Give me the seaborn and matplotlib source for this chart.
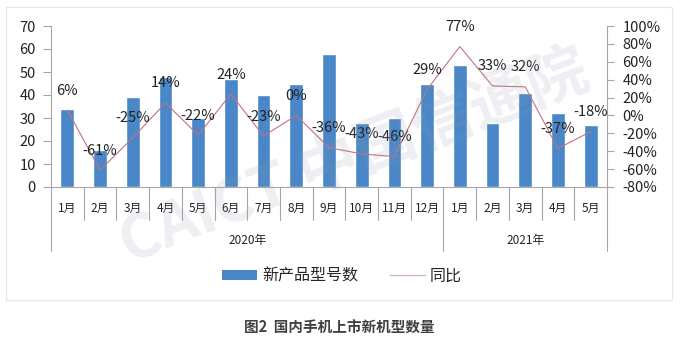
import numpy as np
import pandas as pd
import matplotlib
matplotlib.use('Agg')
import matplotlib.pyplot as plt
import matplotlib.transforms as mtransforms
from matplotlib.patches import Patch, Rectangle
from matplotlib.lines import Line2D
from matplotlib.ticker import FuncFormatter
import seaborn as sns

# ---- data ----
years = ['2020年', '2021年']
months_2020 = ['1月', '2月', '3月', '4月', '5月', '6月', '7月', '8月', '9月', '10月', '11月', '12月']
months_2021 = ['1月', '2月', '3月', '4月', '5月']
new_models = [34, 16, 39, 48, 30, 47, 40, 45, 58, 28, 30, 45, 53, 28, 41, 32, 27]
yoy = [6, -61, -25, 14, -22, 24, -23, 0, -36, -43, -46, 29, 77, 33, 32, -37, -18]
series_names = ['新产品型号数', '同比']
caption = '图2  国内手机上市新机型数量'

month_labels = months_2020 + months_2021
year_of = [years[0]] * len(months_2020) + [years[1]] * len(months_2021)
keys = [y + m for y, m in zip(year_of, month_labels)]
n = len(keys)

BAR = '#4A87C8'
LINE = '#C4727C'
GRID = '#A6A6A6'

sns.set_style('white')
plt.rcParams['font.family'] = ['Noto Sans CJK SC', 'DejaVu Sans']

df = pd.DataFrame({'key': keys, 'count': new_models, 'yoy': yoy, 'pos': np.arange(n)})

fig = plt.figure(figsize=(6.83, 3.53), dpi=100)
ax = fig.add_axes([51 / 683, 166 / 353, 556 / 683, 161 / 353])

sns.barplot(data=df, x='key', y='count', order=keys, color=BAR, width=0.42,
            saturation=1, ax=ax, zorder=2)
ax.set_xlim(-0.5, n - 0.5)
ax.set_ylim(0, 70)
ax.set_yticks(range(0, 71, 10))
ax.set_xlabel('')
ax.set_ylabel('')

ax2 = ax.twinx()
sns.lineplot(data=df, x='pos', y='yoy', ax=ax2, color=LINE, linewidth=0.8)
ax2.set_xlim(-0.5, n - 0.5)
ax2.set_ylim(-80, 100)
ax2.set_yticks(range(-80, 101, 20))
ax2.yaxis.set_major_formatter(FuncFormatter(lambda v, p: f'{int(v)}%'))
ax2.set_xlabel('')
ax2.set_ylabel('')

for a in (ax, ax2):
    for s in a.spines.values():
        s.set_visible(False)
ax.spines['left'].set_visible(True)
ax.spines['left'].set_color(GRID)
ax.spines['bottom'].set_visible(True)
ax.spines['bottom'].set_color(GRID)
ax2.spines['right'].set_visible(True)
ax2.spines['right'].set_color(GRID)

ax.tick_params(axis='y', left=True, length=6, width=0.8, color=GRID,
               labelsize=10.5, pad=5, labelcolor='#222222')
ax.tick_params(axis='x', bottom=False, labelbottom=False)
ax2.tick_params(axis='y', right=True, length=5, width=0.8, color=GRID,
                labelsize=10.5, pad=6, labelcolor='#222222')
ax2.tick_params(axis='x', bottom=False, labelbottom=False)

# data labels
for i, v in enumerate(yoy):
    ax2.annotate(f'{v}%', (i, v), xytext=(0, 14), textcoords='offset points',
                 ha='center', va='center', fontsize=10.5, color='#222222')

# category axis with separators
trans = mtransforms.blended_transform_factory(ax.transData, ax.transAxes)
boundaries = {0, len(months_2020), n}
for k in range(n + 1):
    ybot = -0.40 if k in boundaries else -0.205
    ax.plot([k - 0.5, k - 0.5], [0, ybot], transform=trans, clip_on=False,
            color=GRID, lw=0.8)
for i, m in enumerate(month_labels):
    ax.text(i, -0.135, m, transform=trans, ha='center', va='center',
            fontsize=8.5, color='#222222')
ax.text((len(months_2020) - 1) / 2, -0.335, years[0], transform=trans,
        ha='center', va='center', fontsize=8.5, color='#222222')
ax.text(len(months_2020) + (len(months_2021) - 1) / 2, -0.335, years[1],
        transform=trans, ha='center', va='center', fontsize=8.5, color='#222222')

# legend
handles = [Patch(facecolor=BAR, edgecolor='none', label=series_names[0]),
           Line2D([], [], color='#D9B8BE', lw=1.0, label=series_names[1])]
fig.legend(handles=handles, loc='center', bbox_to_anchor=(342 / 683, 1 - 276 / 353),
           ncol=2, frameon=False, fontsize=11.5, handlelength=2.2, handleheight=0.55,
           columnspacing=2.0, handletextpad=0.3)

# border and caption
fig.patches.append(Rectangle((6 / 683, 1 - 300 / 353), (672 - 6) / 683, (300 - 7) / 353,
                             transform=fig.transFigure, fill=False,
                             edgecolor='#E6E6E6', lw=0.8))
fig.text(339 / 683, 1 - 328 / 353, caption, ha='center', va='center',
         fontsize=10.5, fontweight='bold', color='#404040')

# watermark
fig.text(0.52, 0.55, 'CAICT 中国信通院', rotation=21, fontsize=44, fontweight='bold',
         color='#8E9BB0', alpha=0.16, ha='center', va='center', zorder=10)

fig.savefig('out.png', dpi=100)
